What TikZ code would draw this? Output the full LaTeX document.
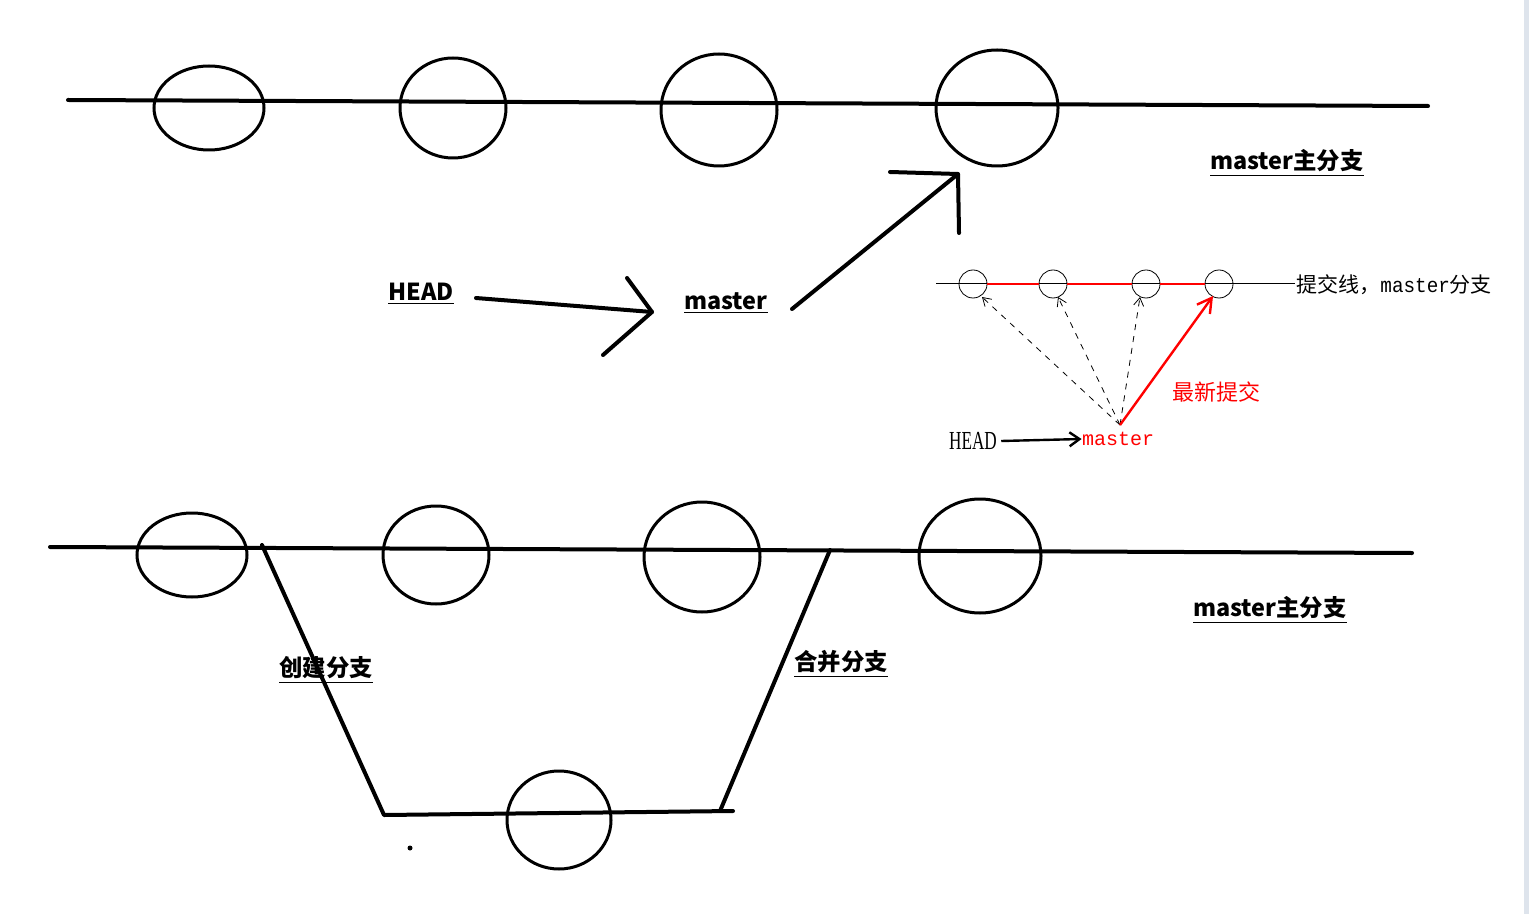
\documentclass[tikz,border=0pt]{standalone}
\usepackage{fontspec}
\setmainfont{Noto Sans CJK SC}
\newfontfamily\cjk{Noto Sans CJK SC}
\newfontfamily\serifhead{Liberation Serif}
\newfontfamily\monof{Liberation Mono}
\usetikzlibrary{arrows.meta,shapes.geometric}
\definecolor{edgegray}{RGB}{222,228,236}

\begin{document}
\begin{tikzpicture}[x=0.5pt,y=-0.5pt,
	commit/.style={draw, ellipse, line width=1.5pt, inner sep=0pt},
	dot/.style={draw, circle, line width=0.4pt, minimum size=14pt, inner sep=0pt},
	hand/.style={line width=2pt, line cap=round, line join=round},
	lbl/.style={font=\cjk\bfseries\fontsize{11.7}{14}\selectfont, inner sep=0pt},
	small/.style={font=\cjk\fontsize{10.5}{12}\selectfont, inner sep=0pt}]
	\useasboundingbox (0,0) rectangle (1529,914);
	\fill[white] (0,0) rectangle (1529,914);
	\fill[edgegray] (1524,0) rectangle (1529,914);

	% master line on top
	\coordinate (m0) at (68,100);
	\coordinate (m1) at (1428,106);
	\draw[hand] (m0) -- (m1);
	\node[commit, minimum width=55pt, minimum height=42pt] (a1) at (209,108) {};
	\node[commit, minimum width=53pt, minimum height=50pt] (a2) at (453,108) {};
	\node[commit, minimum width=58pt, minimum height=56pt] (a3) at (719,110) {};
	\node[commit, minimum width=61pt, minimum height=58pt] (a4) at (997,108) {};
	\node[lbl] (mtop) at (1287,163) {\underline{master主分支}};

	% HEAD -> master
	\node[lbl] (head) at (421,294) {\underline{HEAD}};
	\node[lbl] (mast) at (726,303) {\underline{master}};
	\coordinate (h0) at (476,298);
	\coordinate (h1) at (652,312);
	\draw[hand] (h0) -- (h1);
	\draw[hand] (627,278) -- (h1) -- (603,355);
	\coordinate (p0) at (792,309);
	\coordinate (p1) at (958,174);
	\draw[hand] (p0) -- (p1);
	\draw[hand] (890,172) -- (p1) -- (959,233);

	% small picture
	\coordinate (c0) at (936,284);
	\coordinate (c5) at (1295,284);
	\draw[line width=0.5pt] (c0) -- (c5);
	\node[dot] (d1) at (973,284) {};
	\node[dot] (d2) at (1053,284) {};
	\node[dot] (d3) at (1146,284) {};
	\node[dot] (d4) at (1219,284) {};
	\draw[red, line width=1pt] (d1) -- (d2) -- (d3) -- (d4);
	\node[small, anchor=west] (cline) at (1296,285) {提交线，{\monof\scalebox{0.92}[1]{master}}分支};
	\coordinate (mp) at (1120,425);
	\foreach \i/\x in {d1/982, d2/1058, d3/1140}
		\draw[dashed, line width=0.4pt, -{Straight Barb[length=4pt,width=5pt]}] (mp) -- (\x,297);
	\draw[red, line width=1.2pt, -{Straight Barb[length=7pt,width=8pt,line width=1.2pt]}] (mp) -- (1213,296);
	\node[small, text=red, font=\cjk\fontsize{11}{13}\selectfont] (newest) at (1216,392) {最新提交};
	\node[inner sep=0pt, font=\serifhead\fontsize{13}{15}\selectfont] (shead) at (973,441) {\scalebox{0.66}[1]{HEAD}};
	\node[inner sep=0pt, text=red, font=\monof\fontsize{10}{12}\selectfont] (smast) at (1118,439) {master};
	\draw[line width=1.2pt, -{Straight Barb[length=5pt,width=7pt,line width=1.2pt]}] (shead.east) ++(4,0) -- (smast.west);

	% master line below, with a branch
	\coordinate (n0) at (50,547);
	\coordinate (n1) at (1412,553);
	\draw[hand] (n0) -- (n1);
	\node[commit, minimum width=55pt, minimum height=42pt] (b1) at (192,555) {};
	\node[commit, minimum width=53pt, minimum height=49pt] (b2) at (436,555) {};
	\node[commit, minimum width=58pt, minimum height=55pt] (b3) at (702,557) {};
	\node[commit, minimum width=61pt, minimum height=57pt] (b4) at (980,556) {};
	\node[lbl] (mbot) at (1270,610) {\underline{master主分支}};
	\coordinate (k0) at (262,545);
	\coordinate (k1) at (384,815);
	\coordinate (k2) at (733,811);
	\coordinate (k3) at (720,811);
	\coordinate (k4) at (830,550);
	\draw[hand] (k0) -- (k1) -- (k2);
	\draw[hand] (k3) -- (k4);
	\node[commit, minimum width=52pt, minimum height=49pt] (e1) at (559,820) {};
	\fill (410,848) circle (2.5);
	\node[lbl] (create) at (326,670) {\underline{创建分支}};
	\node[lbl] (merge) at (841,664) {\underline{合并分支}};
\end{tikzpicture}
\end{document}
